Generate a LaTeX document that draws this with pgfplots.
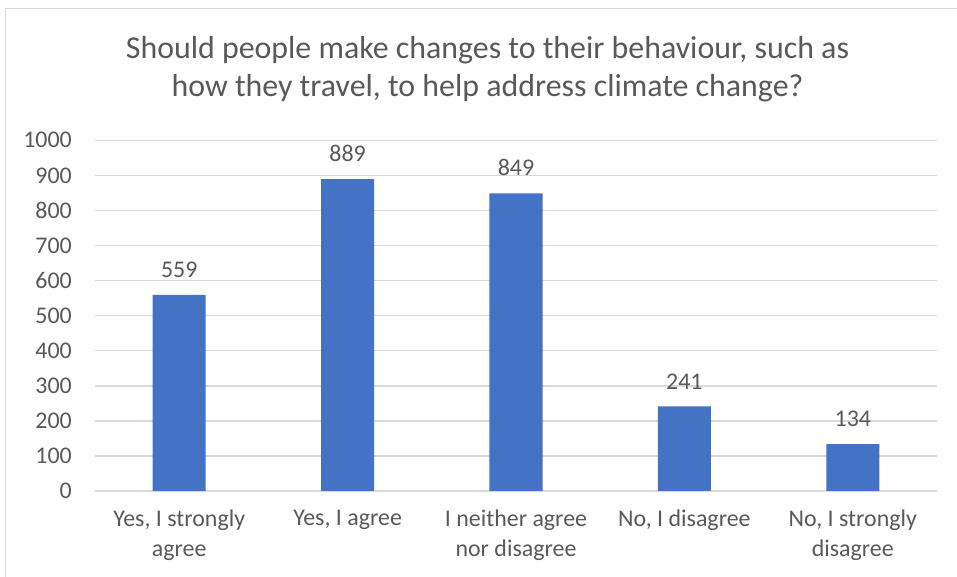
\documentclass[border=0pt]{standalone}
\usepackage{fontspec}
\setmainfont{Carlito}
\usepackage{pgfplots}
\pgfplotsset{compat=1.18}

\definecolor{barblue}{HTML}{4472C4}
\definecolor{txtgray}{HTML}{595959}
\definecolor{gridgray}{HTML}{D9D9D9}

\begin{document}
\begin{tikzpicture}
\path[use as bounding box, fill=white] (0,0) rectangle (957bp,577bp);
% chart frame (only left and top edges visible)
\draw[gridgray, line width=1.5bp] (5.5bp,0) -- (5.5bp,568.5bp) -- (957bp,568.5bp);

\node[txtgray, font=\fontsize{32}{38}\selectfont, align=center] at (487.5bp,508bp)
  {Should people make changes to their behaviour, such as\\how they travel, to help address climate change?};

\begin{axis}[
    at={(95bp,86bp)}, anchor=south west,
    scale only axis,
    width=842bp, height=350.7bp,
    xmin=-0.5, xmax=4.5,
    ymin=0, ymax=1000,
    ytick={0,100,...,1000},
    xtick={0,1,2,3,4},
    xticklabels={{Yes, I strongly\\agree}, {Yes, I agree}, {I neither agree\\nor disagree}, {No, I disagree}, {No, I strongly\\disagree}},
    axis line style={draw=none},
    major tick length=0pt,
    ymajorgrids,
    grid style={gridgray, line width=1.5bp},
    /pgf/number format/assume math mode=true,
    tick label style={txtgray, font=\fontsize{24}{30}\selectfont},
    yticklabel style={anchor=east, inner sep=0pt, xshift=-23bp},
    xticklabel style={anchor=north, inner sep=0pt, yshift=-19bp, align=center},
    /pgf/number format/1000 sep={},
    ybar, bar width=0.315,
    nodes near coords,
    every node near coord/.append style={txtgray, font=\fontsize{24}{30}\selectfont, anchor=south, inner sep=0pt, yshift=17bp},
    clip=false,
]
\addplot[fill=barblue, draw=none] coordinates {
    (0,559) (1,889) (2,849) (3,241) (4,134)
};
\end{axis}
\end{tikzpicture}
\end{document}
